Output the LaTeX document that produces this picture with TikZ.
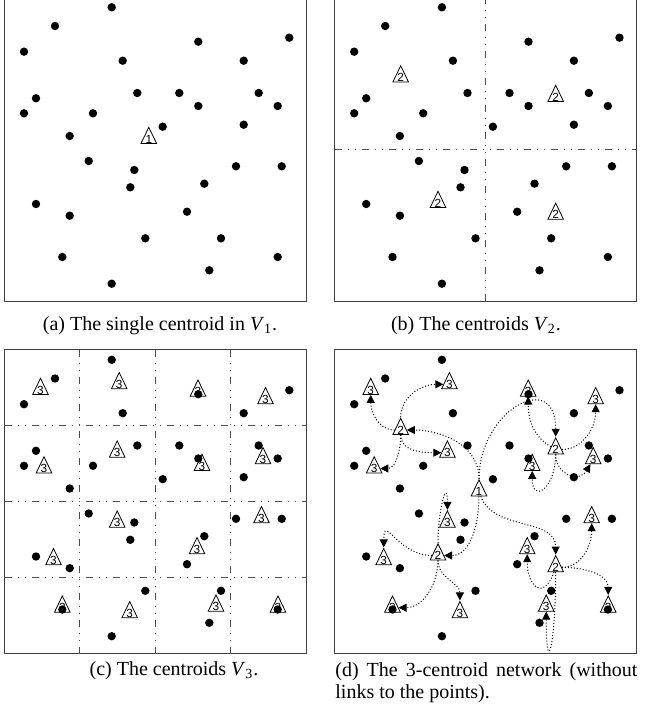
\documentclass[tikz,border=0pt]{standalone}
\usepackage{fontspec}
\setmainfont{Liberation Serif}
\setsansfont{Liberation Sans}
\usepackage{tikz}
\usetikzlibrary{shapes,arrows.meta,positioning}

% the same 33 points in every panel
\newcommand{\pointlist}{111.7/7.3, 55/26, 24/51.7, 198.3/41.7, 289.3/37.7,
  122.7/60.7, 243.7/60.7, 36/98.3, 24/113.3, 137.3/93, 179.3/93, 258.7/93,
  198.3/106, 277.7/106, 93/113.3, 162.7/126.7, 243.7/124.7, 69.7/136,
  88.7/161, 134.3/170, 130.3/187.3, 236/166.3, 281.7/166.3, 204.3/183.7,
  36/204, 69.7/215.7, 187/211.7, 145.3/238.3, 221/238.3, 62.3/257,
  277.7/257, 209.3/270.3, 111.7/283.7}
% centroids of level 2 and level 3
\newcommand{\midlist}{70.5/77.5, 225.5/97, 107.8/203, 225.5/214.8}
\newcommand{\leaflist}{40.5/37.5, 119.2/31.8, 198/39.2, 265.5/46.8,
  44/116, 117.2/100.2, 202/113.5, 263/106.8,
  53.5/207.8, 117.2/170.2, 197/196.8, 261.5/165.8,
  62.3/255.2, 129.7/260.8, 216/254.2, 278/255.2}

\begin{document}
\begin{tikzpicture}[x=0.5pt, y=-0.5pt,
  frame/.style={draw=black!75, line width=0.5pt},
  split/.style={draw=black!70, line width=0.45pt, dash pattern=on 3.5pt off 3pt on 0.5pt off 3pt on 0.5pt off 3pt},
  pnt/.style={circle, fill=black, inner sep=0pt, minimum size=4.2pt},
  cent/.style={draw, isosceles triangle, shape border rotate=90, isosceles triangle stretches, minimum width=7.8pt, minimum height=7.8pt, inner sep=0pt, line width=0.4pt, font=\sffamily\fontsize{5.9}{5.9}\selectfont},
  link/.style={densely dotted, line width=0.5pt, -{Triangle[length=4pt,width=4pt]}},
  capt/.style={font=\fontsize{10}{11}\selectfont, inner sep=0pt}
]
\useasboundingbox (0,0) rectangle (648,717);

% (a) the single centroid
\begin{scope}
  \draw[frame] (4.5,-2.7) rectangle (306,301);
  \node[cent] (a0) at (148.8,139) {1};
  \foreach \px/\py [count=\i] in \pointlist {\node[pnt] (a\i) at (\px,\py) {};}
\end{scope}
\node[capt] (capa) at (160,326) {(a) The single centroid in \textit{V}\textsubscript{1}.};

% (b) four centroids
\begin{scope}[shift={(330.2,0)}]
  \draw[frame] (4.5,-2.7) rectangle (306,301);
  \draw[split] (155.25,-2.7) -- (155.25,301);
  \draw[split] (4.5,149.15) -- (306,149.15);
  \foreach \px/\py [count=\i] in \midlist {\node[cent] (b2-\i) at (\px,\py) {2};}
  \foreach \px/\py [count=\i] in \pointlist {\node[pnt] (b\i) at (\px,\py) {};}
\end{scope}
\node[capt] (capb) at (476,326) {(b) The centroids \textit{V}\textsubscript{2}.};

% (c) sixteen centroids
\begin{scope}[shift={(0,352.5)}]
  \draw[frame] (4.5,-2.7) rectangle (306,301);
  \foreach \gx in {79.9,155.25,230.6} {\draw[split] (\gx,-2.7) -- (\gx,301);}
  \foreach \gy in {73.2,149.15,225.1} {\draw[split] (4.5,\gy) -- (306,\gy);}
  \foreach \px/\py [count=\i] in \leaflist {\node[cent] (c3-\i) at (\px,\py) {3};}
  \foreach \px/\py [count=\i] in \pointlist {\node[pnt] (c\i) at (\px,\py) {};}
\end{scope}
\node[capt] (capc) at (174,671) {(c) The centroids \textit{V}\textsubscript{3}.};

% (d) the network
\begin{scope}[shift={(330.2,352.5)}]
  \draw[frame] (4.5,-2.7) rectangle (306,301);
  \node[cent] (d0) at (148.8,139) {1};
  \foreach \px/\py [count=\i] in \midlist {\node[cent] (d2-\i) at (\px,\py) {2};}
  \foreach \px/\py [count=\i] in \leaflist {\node[cent] (d3-\i) at (\px,\py) {3};}
  \foreach \px/\py [count=\i] in \pointlist {\node[pnt] (d\i) at (\px,\py) {};}

  % level 1 to level 2
  \draw[link] (d0) to[out=90,in=0] (d2-1);
  \draw[link] (d0) to[out=90,in=90,looseness=2] (d2-2);
  \draw[link] (d0) to[out=-90,in=0] (d2-3);
  \draw[link] (d0) to[out=-70,in=90] (d2-4);

  % level 2 to level 3
  \draw[link] (d2-1) to[out=180,in=-90] (d3-1);
  \draw[link] (d2-1) to[out=90,in=180] (d3-2);
  \draw[link] (d2-1) to[out=-90,in=180] (d3-6);
  \draw[link] (d2-1) to[out=-90,in=0] (d3-5);

  \draw[link] (d2-2) to[out=150,in=-90] (d3-3);
  \draw[link] (d2-2) to[out=0,in=-90] (d3-4);
  \draw[link] (d2-2) to[out=-90,in=-90,looseness=3] (d3-7);
  \draw[link] (d2-2) to[out=-90,in=-120,looseness=1.5] (d3-8);

  \draw[link] (d2-3) to[out=90,in=90,looseness=2.5] (d3-10);
  \draw[link] (d2-3) to[out=180,in=90,looseness=1.8] (d3-9);
  \draw[link] (d2-3) to[out=-90,in=0] (d3-13);
  \draw[link] (d2-3) to[out=-90,in=90] (d3-14);

  \draw[link] (d2-4) to[out=-110,in=-90,looseness=2.5] (d3-11);
  \draw[link] (d2-4) to[out=0,in=-90] (d3-12);
  \draw[link] (d2-4) to[out=0,in=90] (d3-16);
  \draw[link] (d2-4) to[out=-90,in=-90,looseness=4.5] (d3-15);
\end{scope}
\node[capt, text width=151pt, align=justify, anchor=north west] (capd) at (335,662)
  {(d) The 3-centroid network (without links to the points).};

\end{tikzpicture}
\end{document}
